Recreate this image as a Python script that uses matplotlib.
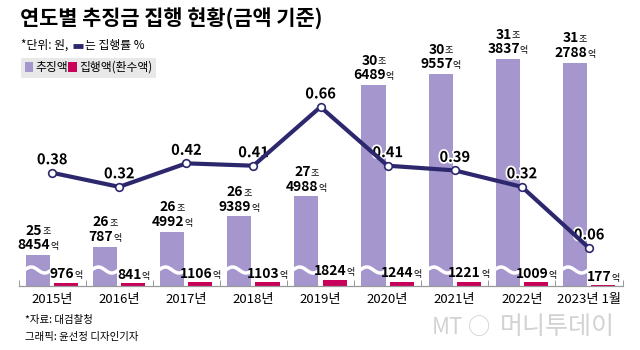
import matplotlib
matplotlib.use("Agg")
import matplotlib.pyplot as plt
import matplotlib.patheffects as pe
from matplotlib.offsetbox import TextArea, HPacker, VPacker, AnnotationBbox
from matplotlib.patches import Rectangle
from matplotlib.lines import Line2D
import numpy as np

plt.rcParams['font.family'] = ['Noto Sans CJK KR', 'DejaVu Sans']

years = ["2015년", "2016년", "2017년", "2018년", "2019년", "2020년", "2021년", "2022년", "2023년 1월"]
chu_jo = [25, 26, 26, 26, 27, 30, 30, 31, 31]          # 추징액 (조)
chu_eok = [8454, 787, 4992, 9389, 4988, 6489, 9557, 3837, 2788]  # 추징액 (억)
exec_eok = [976, 841, 1106, 1103, 1824, 1244, 1221, 1009, 177]   # 집행액 (억)
rate = [0.38, 0.32, 0.42, 0.41, 0.66, 0.41, 0.39, 0.32, 0.06]    # 집행률 %

PURPLE = "#a597cd"
RED = "#c8005a"
NAVY = "#2d286e"

chu = [j + e / 10000 for j, e in zip(chu_jo, chu_eok)]
exe = [e / 10000 for e in exec_eok]
base = 24.97  # 물결 생략 축

fig = plt.figure(figsize=(6.4, 3.5), dpi=100)
ax = fig.add_axes([18.5 / 640, 64 / 350, 604 / 640, 246 / 350])
x = np.arange(len(years))
w = 0.36
off = 0.21

ax.bar(x - off, [c - base for c in chu], w, bottom=base, color=PURPLE, zorder=2)
ax.bar(x + off, exe, w, bottom=base, color=RED, zorder=2)
ax.set_xlim(-0.5, 8.5)
ax.set_ylim(base, 31.92)

# 물결 표시
wy = base + 16 / 35.4
amp = 3 / 35.4
for i in x:
    xs = np.linspace(i - off - w / 2 - 0.02, i - off + w / 2 + 0.02, 50)
    t = np.linspace(0, 1, 50)
    ax.plot(xs, wy + amp * np.sin(2 * np.pi * t), color="white", lw=2.5, zorder=3,
            solid_capstyle="butt")

ax.set_xticks(x, years)
ax.set_xticks(np.arange(-0.5, 9, 1), minor=True)
ax.tick_params(axis="x", which="major", length=0, pad=5, labelsize=9.5)
ax.tick_params(axis="x", which="minor", direction="in", length=4, color="#888888")
ax.set_yticks([])
for s in ["top", "left", "right"]:
    ax.spines[s].set_visible(False)
ax.spines["bottom"].set_color("#999999")
ax.spines["bottom"].set_linewidth(0.9)


def num_unit(n, u, size=10):
    return HPacker(children=[TextArea(n, textprops=dict(fontsize=size, fontweight="bold")),
                             TextArea(u, textprops=dict(fontsize=6.5))],
                   align="baseline", pad=0, sep=0)


for i in x:
    box = VPacker(children=[num_unit(str(chu_jo[i]), "조"), num_unit(str(chu_eok[i]), "억")],
                  align="center", pad=0, sep=0.5)
    ab = AnnotationBbox(box, (i - off, chu[i]), xybox=(0, 2), xycoords="data",
                        boxcoords="offset points", box_alignment=(0.5, 0),
                        frameon=False, pad=0)
    ax.add_artist(ab)
    ab2 = AnnotationBbox(num_unit(str(exec_eok[i]), "억"), (i + off, base + exe[i]),
                         xybox=(0, 1), xycoords="data", boxcoords="offset points",
                         box_alignment=(0.5, 0), frameon=False, pad=0)
    ax.add_artist(ab2)

ax2 = ax.twinx()
ax2.set_ylim(-0.102, 0.945)
ax2.plot(x, rate, color=NAVY, lw=3, marker="o", ms=5.5, mfc="white", mec=NAVY, mew=1.2, zorder=5)
for i in x:
    ax2.annotate(f"{rate[i]:.2f}", (i, rate[i]), xytext=(0, 4), textcoords="offset points",
                 ha="center", va="bottom", fontsize=10.5, fontweight="bold",
                 path_effects=[pe.withStroke(linewidth=2.5, foreground="white")])
ax2.set_yticks([])
for s in ax2.spines.values():
    s.set_visible(False)

# 제목 / 범례
fig.text(20 / 640, 1 - 18 / 350, "연도별 추징금 집행 현황(금액 기준)", fontsize=15,
         fontweight="bold", va="center")
fig.text(21 / 640, 1 - 45 / 350, "*단위: 원,", fontsize=8.5, va="center")
fig.add_artist(Line2D([73 / 640, 83 / 640], [1 - 46 / 350] * 2, color=NAVY, lw=3.5,
                      solid_capstyle="butt"))
fig.text(85 / 640, 1 - 45 / 350, "는 집행률 %", fontsize=8.5, va="center")

fig.add_artist(Rectangle((21 / 640, 1 - 78 / 350), 135 / 640, 20 / 350,
                         transform=fig.transFigure, color="#e8e8e8", lw=0))
fig.add_artist(Rectangle((25 / 640, 1 - 72 / 350), 8 / 640, 10 / 350,
                         transform=fig.transFigure, color=PURPLE, lw=0))
fig.text(35 / 640, 1 - 67 / 350, "추징액", fontsize=8.5, va="center")
fig.add_artist(Rectangle((68 / 640, 1 - 72 / 350), 9 / 640, 10 / 350,
                         transform=fig.transFigure, color=RED, lw=0))
fig.text(79 / 640, 1 - 67 / 350, "집행액(환수액)", fontsize=8.5, va="center")

# 출처
fig.text(25 / 640, 1 - 320 / 350, "*자료: 대검찰청", fontsize=7.5, va="center")
fig.text(25 / 640, 1 - 337 / 350, "그래픽: 윤선정 디자인기자", fontsize=7.5, va="center")

# 워터마크
fig.text(432 / 640, 1 - 327 / 350, "MT", fontsize=16, style="italic", color="#d2d2d2", va="center")
fig.text(468 / 640, 1 - 327 / 350, "○", fontsize=16, color="#d2d2d2", va="center")
fig.text(500 / 640, 1 - 327 / 350, "머니투데이", fontsize=18, color="#d2d2d2", va="center")

fig.savefig("out.png", dpi=100)
